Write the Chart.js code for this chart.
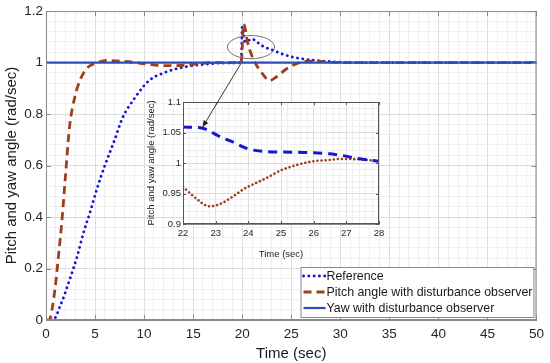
<!DOCTYPE html>
<html>
<head>
<meta charset="utf-8">
<script src="https://cdn.jsdelivr.net/npm/chart.js@4.4.1/dist/chart.umd.min.js"></script>
<style>
  body { margin: 0; background: #fff; }
  #wrap { position: relative; width: 550px; height: 363px; overflow: hidden; }
  canvas { position: absolute; }
</style>
</head>
<body>
<div id="wrap">
  <canvas id="main" width="550" height="363" style="left:0;top:0;width:550px;height:363px"></canvas>
  <canvas id="inset" width="260" height="170" style="left:130px;top:90px;width:260px;height:170px"></canvas>
  <canvas id="overlay" width="550" height="363" style="left:0;top:0;width:550px;height:363px"></canvas>
</div>
<script>
// main plot data
const refTime   = [0, 0.7, 1.5, 2.4, 3.2, 3.8, 4.5, 5.2, 6, 7, 7.8, 9, 10.5, 12, 13.2, 15, 16.6, 18, 19.9, 20, 20.3, 20.6, 21, 21.5, 22, 23.2, 24.2, 25.2, 26.3, 27.3, 29, 31, 50];
const refValue  = [0, 0, 0.06, 0.155, 0.25, 0.336, 0.42, 0.51, 0.6, 0.7, 0.785, 0.86, 0.93, 0.96, 0.975, 0.988, 0.995, 0.998, 1.0, 1.14, 1.08, 1.085, 1.092, 1.08, 1.066, 1.047, 1.032, 1.021, 1.014, 1.009, 1.004, 1.0, 1.0];
const pitchTime = [0, 0.3, 0.9, 1.3, 1.6, 1.95, 2.4, 2.9, 3.45, 4, 4.5, 5.2, 6.2, 7.5, 8.9, 10.5, 12.2, 14.3, 17, 19.9, 20.15, 20.6, 21.2, 22, 22.8, 23.5, 24.5, 25.5, 26.5, 27.5, 29, 31, 50];
const pitchValue = [0, 0, 0.116, 0.26, 0.375, 0.543, 0.75, 0.86, 0.93, 0.97, 0.988, 1.0, 1.008, 1.006, 1.001, 0.993, 0.988, 0.99, 1.0, 1.0, 1.15, 1.07, 1.008, 0.96, 0.93, 0.945, 0.975, 0.995, 1.005, 1.006, 1.002, 1.0, 1.0];
const yawTime   = [0, 50];
const yawValue  = [1, 1];

// zoomed inset data
const insetRefTime    = [22, 22.6, 23.1, 23.5, 24, 24.5, 25, 25.5, 26, 26.5, 26.8, 27.4, 28];
const insetRefValue   = [1.059, 1.057, 1.044, 1.035, 1.023, 1.019, 1.018, 1.0175, 1.017, 1.015, 1.013, 1.007, 1.003];
const insetPitchTime  = [22, 22.4, 22.8, 23.1, 23.5, 23.85, 24.5, 25, 25.5, 26, 26.5, 26.8, 27.4, 28];
const insetPitchValue = [0.961, 0.942, 0.929, 0.932, 0.944, 0.957, 0.974, 0.988, 0.997, 1.003, 1.005, 1.0066, 1.006, 1.003];

// tick labels
const mainXTicks  = [0, 5, 10, 15, 20, 25, 30, 35, 40, 45, 50];
const mainYTicks  = [0, 0.2, 0.4, 0.6, 0.8, 1, 1.2];
const insetXTicks = [22, 23, 24, 25, 26, 27, 28];
const insetYTicks = [0.9, 0.95, 1, 1.05, 1.1];

const seriesNames = ['Reference', 'Pitch angle with disturbance observer', 'Yaw with disturbance observer'];

const REF_COLOR = '#1616d0';
const PITCH_COLOR = '#9c401c';
const YAW_COLOR = '#2c4db8';
const FONT = '"Liberation Sans", Arial, sans-serif';

function pts(xs, ys) { return xs.map((x, i) => ({ x: x, y: ys[i] })); }
function steps(min, max, step) {
  const out = [];
  const n = Math.round((max - min) / step);
  for (let i = 0; i <= n; i++) out.push(+(min + i * step).toFixed(6));
  return out;
}
function majorOf(v, majors) {
  return majors.find(m => Math.abs(m - v) < 1e-6);
}

function gridAxis(min, max, minorStep, majors, fontSize, extra) {
  const minors = steps(min, max, minorStep);
  return Object.assign({
    type: 'linear', min: min, max: max,
    afterBuildTicks: s => { s.ticks = minors.map(v => ({ value: v })); },
    ticks: {
      autoSkip: false, maxRotation: 0, color: '#262626',
      font: { family: FONT, size: fontSize },
      callback: v => { const m = majorOf(v, majors); return m === undefined ? '' : String(m); }
    },
    grid: {
      drawTicks: false,
      color: ctx => (ctx.tick && majorOf(ctx.tick.value, majors) !== undefined) ? '#dcdcdc' : '#efefef',
      lineWidth: 1
    },
    border: { color: '#8a8a8a', width: 1 }
  }, extra);
}

// box + inward tick marks like the original axes
function boxPlugin(majX, majY, len, color) {
  return {
    id: 'box',
    afterDatasetsDraw(chart) {
      const { ctx, chartArea: a, scales } = chart;
      ctx.save();
      ctx.strokeStyle = color;
      ctx.lineWidth = 1;
      ctx.strokeRect(a.left + 0.5, a.top + 0.5, a.right - a.left - 1, a.bottom - a.top - 1);
      ctx.beginPath();
      majX.forEach(v => {
        const x = Math.round(scales.x.getPixelForValue(v)) + 0.5;
        ctx.moveTo(x, a.bottom); ctx.lineTo(x, a.bottom - len);
        ctx.moveTo(x, a.top); ctx.lineTo(x, a.top + len);
      });
      majY.forEach(v => {
        const y = Math.round(scales.y.getPixelForValue(v)) + 0.5;
        ctx.moveTo(a.left, y); ctx.lineTo(a.left + len, y);
        ctx.moveTo(a.right, y); ctx.lineTo(a.right - len, y);
      });
      ctx.stroke();
      ctx.restore();
    }
  };
}

const legendPlugin = {
  id: 'boxLegend',
  afterDraw(chart) {
    const { ctx, chartArea: a } = chart;
    const w = 233, h = 50;
    const left = a.right - 3 - w, top = a.bottom - 3 - h;
    ctx.save();
    ctx.fillStyle = '#fff';
    ctx.fillRect(left, top, w, h);
    ctx.strokeStyle = '#8a8a8a';
    ctx.lineWidth = 1;
    ctx.strokeRect(left + 0.5, top + 0.5, w, h);
    ctx.font = '12.4px ' + FONT;
    ctx.textBaseline = 'middle';
    seriesNames.forEach((name, i) => {
      const ds = chart.data.datasets.find(d => d.label === name);
      const y = top + 9 + i * 16;
      ctx.save();
      ctx.strokeStyle = ds.borderColor;
      ctx.lineWidth = ds.borderWidth;
      ctx.lineCap = ds.borderCapStyle || 'butt';
      ctx.setLineDash(ds.borderDash || []);
      ctx.beginPath();
      ctx.moveTo(left + 3, y); ctx.lineTo(left + 25, y);
      ctx.stroke();
      ctx.restore();
      ctx.fillStyle = '#1a1a1a';
      ctx.fillText(name, left + 26, y + 0.5);
    });
    ctx.restore();
  }
};

const mainChart = new Chart(document.getElementById('main'), {
  type: 'line',
  data: {
    datasets: [
      { label: seriesNames[0], data: pts(refTime, refValue), borderColor: REF_COLOR, borderWidth: 2.8,
        borderDash: [0.1, 5.2], borderCapStyle: 'round', pointRadius: 0, cubicInterpolationMode: 'monotone', order: 2 },
      { label: seriesNames[1], data: pts(pitchTime, pitchValue), borderColor: PITCH_COLOR, borderWidth: 2.8,
        borderDash: [8, 5], pointRadius: 0, cubicInterpolationMode: 'monotone', order: 1 },
      { label: seriesNames[2], data: pts(yawTime, yawValue), borderColor: YAW_COLOR, borderWidth: 2.2,
        pointRadius: 0, order: 0 }
    ]
  },
  options: {
    responsive: false, animation: false, devicePixelRatio: 1,
    layout: { padding: { top: 9, right: 11, left: 0, bottom: 0 } },
    plugins: { legend: { display: false }, tooltip: { enabled: false } },
    scales: {
      x: gridAxis(0, 50, 1, mainXTicks, 13.5, {
        afterFit: s => { s.height = 43; },
        title: { display: true, text: 'Time (sec)', color: '#1a1a1a', font: { family: FONT, size: 15 }, padding: { top: 0, bottom: 0 } }
      }),
      y: gridAxis(0, 1.2, 0.04, mainYTicks, 13.5, {
        afterFit: s => { s.width = 46; },
        title: { display: true, text: 'Pitch and yaw angle (rad/sec)', color: '#1a1a1a', font: { family: FONT, size: 15 }, padding: { top: 3, bottom: 0 } }
      })
    }
  },
  plugins: [boxPlugin(mainXTicks, mainYTicks, 5, '#8a8a8a'), legendPlugin]
});
mainChart.options.scales.x.ticks.padding = 6;
mainChart.options.scales.y.ticks.padding = 3;
mainChart.update();

const whiteArea = {
  id: 'whiteArea',
  beforeDraw(chart) {
    const { ctx, chartArea: a } = chart;
    ctx.save();
    ctx.fillStyle = '#fff';
    ctx.fillRect(a.left, a.top, a.right - a.left, a.bottom - a.top);
    ctx.restore();
  }
};

const insetChart = new Chart(document.getElementById('inset'), {
  type: 'line',
  data: {
    datasets: [
      { label: seriesNames[0], data: pts(insetRefTime, insetRefValue), borderColor: REF_COLOR, borderWidth: 3,
        borderDash: [9, 6], pointRadius: 0, cubicInterpolationMode: 'monotone' },
      { label: seriesNames[1], data: pts(insetPitchTime, insetPitchValue), borderColor: PITCH_COLOR, borderWidth: 2.6,
        borderDash: [0.1, 4], borderCapStyle: 'round', pointRadius: 0, cubicInterpolationMode: 'monotone' }
    ]
  },
  options: {
    responsive: false, animation: false, devicePixelRatio: 1,
    layout: { padding: { top: 12, right: 11, left: 0, bottom: 0 } },
    plugins: { legend: { display: false }, tooltip: { enabled: false } },
    scales: {
      x: gridAxis(22, 28, 0.2, insetXTicks, 9.5, {
        afterFit: s => { s.height = 36; },
        title: { display: true, text: 'Time (sec)', color: '#1a1a1a', font: { family: FONT, size: 9.5 }, padding: { top: 3, bottom: 0 } }
      }),
      y: gridAxis(0.9, 1.1, 0.01, insetYTicks, 9.5, {
        afterFit: s => { s.width = 53; },
        title: { display: true, text: 'Pitch and yaw angle (rad/sec)', color: '#1a1a1a', font: { family: FONT, size: 9.5 }, padding: { top: 16, bottom: 0 } }
      })
    }
  },
  plugins: [whiteArea, boxPlugin(insetXTicks, insetYTicks, 3, '#555')]
});
insetChart.options.scales.x.ticks.padding = 4;
insetChart.options.scales.y.ticks.padding = 2;
insetChart.update();

// zoom ellipse and arrow, placed through both charts' scales
(function drawCallout() {
  const ctx = document.getElementById('overlay').getContext('2d');
  const mx = mainChart.scales.x, my = mainChart.scales.y;
  const ix = insetChart.scales.x, iy = insetChart.scales.y;
  const insetLeft = 130, insetTop = 90;
  const cx = mx.getPixelForValue(20.9), cy = my.getPixelForValue(1.06);
  const rx = mx.getPixelForValue(23.3) - cx, ry = my.getPixelForValue(1.015) - cy;
  ctx.strokeStyle = '#707070';
  ctx.lineWidth = 1;
  ctx.beginPath();
  ctx.ellipse(cx, cy, Math.abs(rx), Math.abs(ry), 0, 0, Math.PI * 2);
  ctx.stroke();

  const x0 = mx.getPixelForValue(19.85), y0 = my.getPixelForValue(0.995);
  const x1 = insetLeft + ix.getPixelForValue(22.6), y1 = insetTop + iy.getPixelForValue(1.059);
  ctx.strokeStyle = '#333';
  ctx.beginPath();
  ctx.moveTo(x0, y0); ctx.lineTo(x1, y1);
  ctx.stroke();
  const ang = Math.atan2(y1 - y0, x1 - x0);
  ctx.fillStyle = '#222';
  ctx.beginPath();
  ctx.moveTo(x1, y1);
  ctx.lineTo(x1 - 7 * Math.cos(ang - 0.4), y1 - 7 * Math.sin(ang - 0.4));
  ctx.lineTo(x1 - 7 * Math.cos(ang + 0.4), y1 - 7 * Math.sin(ang + 0.4));
  ctx.closePath();
  ctx.fill();
})();
</script>
</body>
</html>
